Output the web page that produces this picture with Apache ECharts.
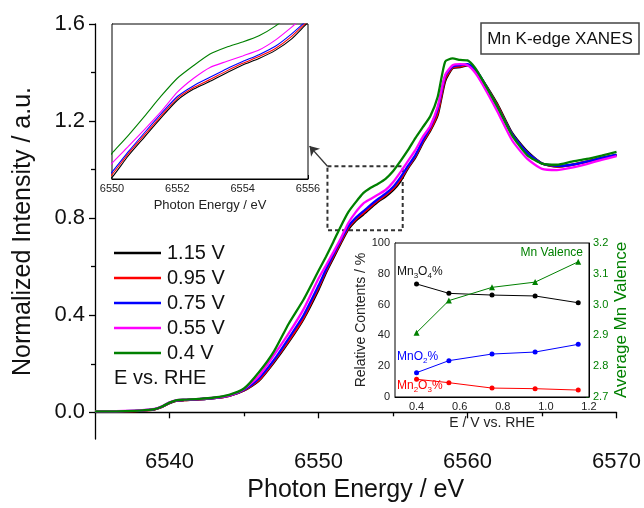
<!DOCTYPE html>
<html>
<head>
<meta charset="utf-8">
<script src="https://cdn.jsdelivr.net/npm/echarts@6/dist/echarts.min.js"></script>
<style>
html, body { margin: 0; padding: 0; background: #fff; }
#chart { width: 644px; height: 508px; }
</style>
</head>
<body>
<div id="chart"></div>
<script>
// photon energy grid (eV)
var energy = [6535, 6536, 6537, 6538, 6539, 6539.5, 6540, 6540.5, 6541, 6542,
  6543, 6544, 6545, 6546, 6547, 6548, 6549, 6550, 6550.5, 6551,
  6551.5, 6552, 6552.5, 6553, 6553.5, 6554, 6554.5, 6555, 6555.5, 6556,
  6556.5, 6557, 6557.5, 6558, 6558.5, 6559, 6559.5, 6560, 6560.5, 6561,
  6562, 6563, 6564, 6565, 6566, 6567, 6568, 6569, 6570];

// normalized intensity for each potential
var v115 = [0.003, 0.003, 0.004, 0.006, 0.012, 0.022, 0.038, 0.048, 0.05, 0.053,
  0.058, 0.068, 0.09, 0.13, 0.205, 0.29, 0.385, 0.505, 0.575, 0.636,
  0.697, 0.754, 0.79, 0.815, 0.842, 0.868, 0.889, 0.915, 0.952, 1.005,
  1.05, 1.11, 1.16, 1.225, 1.365, 1.418, 1.422, 1.43, 1.41, 1.37,
  1.27, 1.15, 1.075, 1.025, 1.012, 1.02, 1.033, 1.047, 1.06];
var v095 = [0.003, 0.003, 0.004, 0.006, 0.012, 0.023, 0.039, 0.048, 0.05, 0.053,
  0.058, 0.068, 0.091, 0.133, 0.21, 0.295, 0.39, 0.514, 0.582, 0.643,
  0.703, 0.76, 0.795, 0.821, 0.848, 0.873, 0.895, 0.921, 0.96, 1.01,
  1.055, 1.115, 1.165, 1.235, 1.375, 1.42, 1.425, 1.432, 1.41, 1.368,
  1.265, 1.145, 1.07, 1.025, 1.013, 1.02, 1.033, 1.048, 1.06];
var v075 = [0.004, 0.004, 0.005, 0.007, 0.013, 0.024, 0.04, 0.049, 0.051, 0.054,
  0.059, 0.069, 0.093, 0.14, 0.215, 0.305, 0.40, 0.522, 0.588, 0.65,
  0.71, 0.766, 0.801, 0.828, 0.855, 0.879, 0.901, 0.928, 0.968, 1.015,
  1.06, 1.12, 1.175, 1.25, 1.385, 1.425, 1.43, 1.435, 1.415, 1.37,
  1.26, 1.145, 1.07, 1.025, 1.015, 1.02, 1.033, 1.048, 1.062];
var v055 = [0.005, 0.005, 0.006, 0.008, 0.014, 0.025, 0.041, 0.05, 0.052, 0.055,
  0.06, 0.07, 0.096, 0.15, 0.235, 0.325, 0.425, 0.551, 0.605, 0.66,
  0.717, 0.78, 0.825, 0.86, 0.879, 0.897, 0.916, 0.948, 0.99, 1.035,
  1.08, 1.135, 1.18, 1.26, 1.39, 1.43, 1.435, 1.43, 1.40, 1.352,
  1.24, 1.12, 1.045, 1.003, 0.998, 1.008, 1.023, 1.04, 1.056];
var v040 = [0.004, 0.004, 0.005, 0.007, 0.013, 0.024, 0.04, 0.05, 0.052, 0.055,
  0.061, 0.072, 0.098, 0.165, 0.25, 0.365, 0.465, 0.583, 0.641, 0.703,
  0.767, 0.825, 0.866, 0.903, 0.925, 0.942, 0.962, 0.993, 1.035, 1.08,
  1.13, 1.175, 1.22, 1.30, 1.445, 1.458, 1.452, 1.45, 1.42, 1.37,
  1.26, 1.14, 1.06, 1.025, 1.02, 1.033, 1.044, 1.058, 1.073];

var seriesNames = ['1.15 V', '0.95 V', '0.75 V', '0.55 V', '0.4 V'];
var seriesColors = ['#000000', '#ff0000', '#0000ff', '#ff00ff', '#008000'];

// lower-right inset: fitting results
var potential = [0.4, 0.55, 0.75, 0.95, 1.15];
var mn3o4 = [73.4, 67.3, 66.2, 65.6, 61.2];
var mno2 = [15.8, 23.6, 27.9, 29.2, 34.2];
var mn2o3 = [11.5, 9.3, 5.8, 5.4, 4.5];
var valence = [2.909, 3.013, 3.056, 3.073, 3.139];

// tick labels
var mainXTicks = [6540, 6550, 6560, 6570];
var mainXMinor = [6545, 6555, 6565];
var mainYTicks = [0, 0.4, 0.8, 1.2, 1.6];
var mainYMinor = [0.2, 0.6, 1.0, 1.4];
var lrXTicks = [0.4, 0.6, 0.8, 1.0, 1.2];

var FONT = '"Liberation Sans", Arial, sans-serif';

function pairs(xs, ys) {
  return xs.map(function (x, i) { return [x, ys[i]]; });
}
function plain(v) { return String(v); }
function oneDec(v) { return v.toFixed(1); }

var chartDom = document.getElementById('chart');
var myChart = echarts.init(chartDom);

var allY = [v115, v095, v075, v055, v040];
var series = [];

allY.forEach(function (ys, i) {
  var s = {
    name: seriesNames[i],
    type: 'line',
    xAxisIndex: 0,
    yAxisIndex: 0,
    data: pairs(energy, ys),
    symbol: 'none',
    smooth: 0.2,
    color: seriesColors[i],
    lineStyle: { width: 2.3, color: seriesColors[i] },
    animation: false,
    z: 3 + i
  };
  if (i === 4) {
    // dashed zoom box + arrow to the inset
    s.markArea = {
      silent: true,
      itemStyle: { color: 'rgba(0,0,0,0)', borderColor: '#333', borderWidth: 2, borderType: [4, 3] },
      data: [[{ coord: [6550.6, 1.014] }, { coord: [6555.65, 0.75] }]]
    };
    s.markLine = {
      silent: true,
      symbol: ['none', 'arrow'],
      symbolSize: 9,
      label: { show: false },
      lineStyle: { color: '#333', width: 1.3, type: 'solid' },
      data: [[{ coord: [6550.6, 1.014] }, { coord: [6549.4, 1.097] }]]
    };
  }
  series.push(s);
});

allY.forEach(function (ys, i) {
  var s = {
    name: seriesNames[i],
    type: 'line',
    xAxisIndex: 2,
    yAxisIndex: 2,
    data: pairs(energy, ys),
    symbol: 'none',
    smooth: 0.2,
    color: seriesColors[i],
    lineStyle: { width: 1.1, color: seriesColors[i] },
    animation: false,
    z: 10
  };
  if (i === 0) {
    s.markLine = {
      silent: true,
      animation: false,
      label: { show: false },
      data: [
        [{ coord: [6553, 0.5], symbol: 'none', lineStyle: { color: '#333', width: 1, type: [3, 3] } },
         { coord: [6553, 1.0], symbol: 'none' }],
        [{ coord: [6552.75, 0.751], symbol: 'none', lineStyle: { color: '#222', width: 1.5, type: 'solid' } },
         { coord: [6551.75, 0.878], symbol: 'arrow', symbolSize: 10 }]
      ]
    };
  }
  series.push(s);
});

series.push({
  name: 'Mn3O4%', type: 'line', xAxisIndex: 3, yAxisIndex: 3, z: 10,
  data: pairs(potential, mn3o4), color: '#000', symbol: 'circle', symbolSize: 5,
  lineStyle: { width: 1 }, animation: false
});
series.push({
  name: 'MnO2%', type: 'line', xAxisIndex: 3, yAxisIndex: 3, z: 10,
  data: pairs(potential, mno2), color: '#0000ff', symbol: 'circle', symbolSize: 5,
  lineStyle: { width: 1 }, animation: false
});
series.push({
  name: 'Mn2O3%', type: 'line', xAxisIndex: 3, yAxisIndex: 3, z: 10,
  data: pairs(potential, mn2o3), color: '#ff0000', symbol: 'circle', symbolSize: 5,
  lineStyle: { width: 1 }, animation: false
});
series.push({
  name: 'Mn Valence', type: 'line', xAxisIndex: 3, yAxisIndex: 4, z: 10,
  data: pairs(potential, valence), color: '#008000', symbol: 'triangle', symbolSize: 6,
  lineStyle: { width: 1 }, animation: false
});

function richText(text, color, x, y) {
  return {
    type: 'text', x: x, y: y, z: 50,
    style: {
      text: text,
      fill: color,
      verticalAlign: 'middle',
      align: 'left',
      rich: {
        n: { fontSize: 12, fontFamily: FONT, lineHeight: 16, fill: color },
        s: { fontSize: 8, fontFamily: FONT, lineHeight: 6, verticalAlign: 'bottom', fill: color }
      }
    }
  };
}

var option = {
  backgroundColor: '#fff',
  textStyle: { fontFamily: FONT },
  grid: [
    { left: 95, right: 26, top: 24, bottom: 69, show: false },
    { left: 112, right: 336, top: 24, bottom: 329, show: true, backgroundColor: '#fff', borderColor: '#000', borderWidth: 1, z: 8 },
    { left: 395, right: 55, top: 243, bottom: 111, show: true, backgroundColor: '#fff', borderColor: '#000', borderWidth: 1, z: 8 }
  ],
  legend: {
    data: seriesNames,
    orient: 'vertical',
    left: 114,
    top: 243,
    padding: 0,
    icon: 'rect',
    itemWidth: 47,
    itemHeight: 2.5,
    itemGap: 5,
    textStyle: { fontSize: 20, fontFamily: FONT, color: '#111', lineHeight: 20, padding: [0, 0, 0, 1] }
  },
  xAxis: [
    {
      gridIndex: 0, type: 'value', min: 6535, max: 6570,
      name: 'Photon Energy / eV', nameLocation: 'middle', nameGap: 38,
      nameTextStyle: { fontSize: 25, color: '#111', fontFamily: FONT },
      axisLine: { lineStyle: { color: '#000', width: 1.3 } },
      axisTick: { customValues: mainXTicks, length: 6, lineStyle: { color: '#000', width: 1.3 } },
      axisLabel: { customValues: mainXTicks, fontSize: 22, color: '#111', margin: 12, formatter: plain },
      splitLine: { show: false }
    },
    {
      gridIndex: 0, type: 'value', min: 6535, max: 6570, position: 'bottom',
      axisLine: { show: false },
      axisTick: { customValues: mainXMinor, length: 4, lineStyle: { color: '#000', width: 1.3 } },
      axisLabel: { show: false },
      splitLine: { show: false }
    },
    {
      gridIndex: 1, type: 'value', min: 6550, max: 6556, interval: 2,
      name: 'Photon Energy / eV', nameLocation: 'middle', nameGap: 20,
      nameTextStyle: { fontSize: 13, color: '#222', fontFamily: FONT },
      axisLine: { lineStyle: { color: '#000', width: 1 } },
      axisTick: { inside: true, length: 4, lineStyle: { color: '#000' } },
      minorTick: { show: true, splitNumber: 2, length: 3, lineStyle: { color: '#000' } },
      axisLabel: { fontSize: 11, color: '#222', margin: 4, formatter: plain },
      splitLine: { show: false }
    },
    {
      gridIndex: 2, type: 'value', min: 0.3, max: 1.2,
      name: 'E / V vs. RHE', nameLocation: 'middle', nameGap: 19,
      nameTextStyle: { fontSize: 14, color: '#222', fontFamily: FONT },
      axisLine: { lineStyle: { color: '#000', width: 1 } },
      axisTick: { inside: true, length: 3, customValues: lrXTicks, lineStyle: { color: '#000' } },
      axisLabel: { customValues: lrXTicks, fontSize: 11, color: '#222', margin: 4, formatter: oneDec },
      splitLine: { show: false }
    }
  ],
  yAxis: [
    {
      gridIndex: 0, type: 'value', min: -0.11, max: 1.6,
      name: 'Normalized Intensity / a.u.', nameLocation: 'middle', nameGap: 59,
      nameTextStyle: { fontSize: 25, color: '#111', fontFamily: FONT },
      axisLine: { show: true, lineStyle: { color: '#000', width: 1.3 } },
      axisTick: { show: true, customValues: mainYTicks, length: 6, lineStyle: { color: '#000', width: 1.3 } },
      axisLabel: { customValues: mainYTicks, fontSize: 22, color: '#111', margin: 10, formatter: oneDec },
      splitLine: { show: false }
    },
    {
      gridIndex: 0, type: 'value', min: -0.11, max: 1.6, position: 'left',
      axisLine: { show: false },
      axisTick: { show: true, customValues: mainYMinor, length: 4, lineStyle: { color: '#000', width: 1.3 } },
      axisLabel: { show: false },
      splitLine: { show: false }
    },
    {
      gridIndex: 1, type: 'value', min: 0.5, max: 1.0, interval: 0.1,
      axisLine: { show: true, lineStyle: { color: '#000', width: 1 } },
      axisTick: { show: true, inside: true, length: 4, lineStyle: { color: '#000' } },
      axisLabel: { show: false },
      splitLine: { show: false }
    },
    {
      gridIndex: 2, type: 'value', min: 0, max: 100, interval: 20,
      name: 'Relative Contents / %', nameLocation: 'middle', nameGap: 22,
      nameTextStyle: { fontSize: 14, color: '#222', fontFamily: FONT },
      axisLine: { show: true, lineStyle: { color: '#000', width: 1 } },
      axisTick: { show: true, inside: true, length: 3, lineStyle: { color: '#000' } },
      axisLabel: { fontSize: 11, color: '#222', margin: 5 },
      splitLine: { show: false }
    },
    {
      gridIndex: 2, type: 'value', min: 2.7, max: 3.2, interval: 0.1, position: 'right',
      name: 'Average Mn Valence', nameLocation: 'middle', nameGap: 24, nameRotate: 90,
      nameTextStyle: { fontSize: 17, color: '#008000', fontFamily: FONT },
      axisLine: { show: true, lineStyle: { color: '#000', width: 1 } },
      axisTick: { show: true, inside: true, length: 3, lineStyle: { color: '#008000' } },
      axisLabel: { fontSize: 11, color: '#008000', margin: 4, formatter: oneDec },
      splitLine: { show: false }
    }
  ],
  graphic: [
    {
      type: 'text', x: 114, y: 378, z: 50,
      style: { text: 'E vs. RHE', font: '20px ' + FONT, fill: '#111', verticalAlign: 'middle' }
    },
    {
      type: 'group', z: 50,
      children: [
        { type: 'rect', shape: { x: 481, y: 23, width: 158, height: 31 },
          style: { fill: '#fff', stroke: '#444', lineWidth: 1.5 } },
        { type: 'text', x: 560, y: 39,
          style: { text: 'Mn K-edge XANES', font: '17px ' + FONT, fill: '#111', align: 'center', verticalAlign: 'middle' } }
      ]
    },
    richText('{n|Mn}{s|3}{n|O}{s|4}{n|%}', '#111', 397, 272),
    richText('{n|MnO}{s|2}{n|%}', '#0000ff', 397, 357),
    richText('{n|Mn}{s|2}{n|O}{s|3}{n|%}', '#ff0000', 397, 386),
    {
      type: 'text', x: 583, y: 253, z: 50,
      style: { text: 'Mn Valence', font: '12px ' + FONT, fill: '#008000', align: 'right', verticalAlign: 'middle' }
    }
  ],
  series: series
};

option && myChart.setOption(option);
</script>
</body>
</html>
